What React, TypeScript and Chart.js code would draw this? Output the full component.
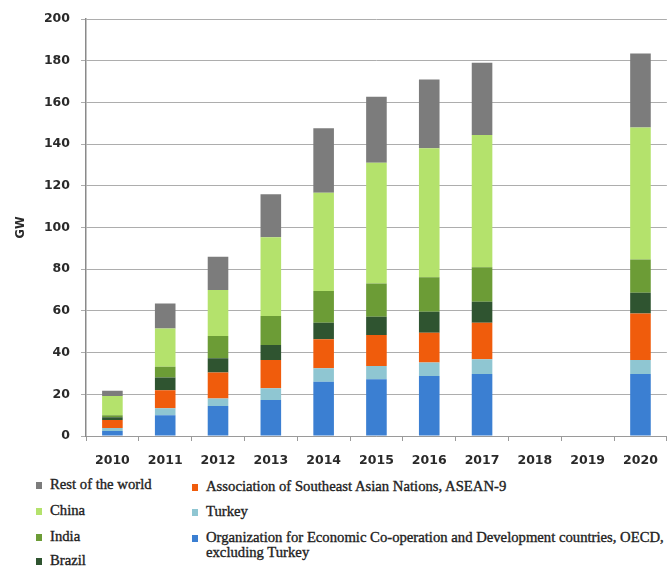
import React, { useEffect, useRef } from 'react';
import { Chart, registerables } from 'chart.js';

Chart.register(...registerables);

// ---- Data (GW) ----
const years = ['2010', '2011', '2012', '2013', '2014', '2015', '2016', '2017', '2018', '2019', '2020'];
const oecd = [2.4, 10, 14.4, 17.3, 26, 27.2, 28.8, 29.7, null, null, 29.7];
const turkey = [1.4, 3.3, 3.6, 5.6, 6.5, 6.4, 6.4, 7.1, null, null, 6.8];
const asean = [3.9, 8.7, 12.4, 13.6, 13.9, 14.8, 14.3, 17.5, null, null, 22.3];
const brazil = [1.3, 6, 6.9, 7.1, 7.9, 8.8, 10.1, 10.1, null, null, 9.9];
const india = [1, 5.2, 10.7, 14, 15.2, 16, 16.5, 16.5, null, null, 16];
const china = [9.2, 18.4, 22, 37.7, 47.2, 57.8, 61.9, 63.5, null, null, 63.3];
const rest = [2.5, 12, 16, 20.7, 30.9, 31.7, 33, 34.6, null, null, 35.5];
const yTicks = [0, 20, 40, 60, 80, 100, 120, 140, 160, 180, 200];

const labels = {
  oecd: 'Organization for Economic Co-operation and Development countries, OECD, excluding Turkey',
  turkey: 'Turkey',
  asean: 'Association of Southeast Asian Nations, ASEAN-9',
  brazil: 'Brazil',
  india: 'India',
  china: 'China',
  rest: 'Rest of the world',
};

const colors = {
  oecd: '#3b7fd2',
  turkey: '#8fc6d2',
  asean: '#f05c0c',
  brazil: '#2f5430',
  india: '#6c9c36',
  china: '#b4e26c',
  rest: '#7c7c7c',
};

// legend placement (styling only)
const legendLayout: { key: keyof typeof labels; x: number; y: number }[] = [
  { key: 'rest', x: 36, y: 485 },
  { key: 'china', x: 36, y: 511 },
  { key: 'india', x: 36, y: 537 },
  { key: 'brazil', x: 36, y: 561 },
  { key: 'asean', x: 192, y: 487 },
  { key: 'turkey', x: 192, y: 512 },
  { key: 'oecd', x: 192, y: 538 },
];

export default function App() {
  const ref = useRef<HTMLCanvasElement | null>(null);

  useEffect(() => {
    if (!ref.current) return;
    const series: [keyof typeof labels, (number | null)[]][] = [
      ['oecd', oecd],
      ['turkey', turkey],
      ['asean', asean],
      ['brazil', brazil],
      ['india', india],
      ['china', china],
      ['rest', rest],
    ];
    const chart = new Chart(ref.current, {
      type: 'bar',
      data: {
        labels: years,
        datasets: series.map(([k, d]) => ({
          label: labels[k],
          data: d,
          backgroundColor: colors[k],
          borderWidth: 0,
          categoryPercentage: 1,
          barPercentage: 0.39,
        })),
      },
      options: {
        animation: false,
        responsive: false,
        maintainAspectRatio: false,
        layout: { padding: { top: 19, right: 3, left: 0, bottom: 0 } },
        plugins: { legend: { display: false }, tooltip: { enabled: false } },
        scales: {
          x: {
            stacked: true,
            afterFit: (s: any) => { s.height = 39; },
            grid: { display: true, drawOnChartArea: false, drawTicks: true, offset: true, tickLength: 5, color: '#9a9a9a' },
            border: { display: true, color: '#9a9a9a', width: 1 },
            ticks: { color: '#2a2a2a', padding: 12, font: { family: 'DejaVu Sans', weight: 'bold', size: 12.5 } },
          },
          y: {
            stacked: true,
            min: 0,
            max: 200,
            afterFit: (s: any) => { s.width = 86; },
            afterBuildTicks: (s: any) => { s.ticks = yTicks.map((v) => ({ value: v })); },
            grid: { color: '#adadad', lineWidth: 1, tickLength: 5, drawTicks: true },
            border: { display: true, color: '#8a8a8a', width: 1.5 },
            ticks: { color: '#2a2a2a', padding: 11, font: { family: 'DejaVu Sans', weight: 'bold', size: 12.5 } },
            title: {
              display: true,
              text: 'GW',
              color: '#2a2a2a',
              padding: { top: 14, bottom: 0 },
              font: { family: 'DejaVu Sans', weight: 'bold', size: 11.5 },
            },
          },
        },
      },
    });
    return () => chart.destroy();
  }, []);

  return (
    <div style={{ position: 'fixed', left: 0, top: 0, width: 670, height: 571, background: '#fff', overflow: 'hidden' }}>
      <canvas ref={ref} width={670} height={475} style={{ position: 'absolute', left: 0, top: 0, width: 670, height: 475 }} />
      {legendLayout.map(({ key, x, y }) => {
        const text = labels[key].replace('OECD, ', 'OECD,\n');
        return (
          <div key={key} style={{ position: 'absolute', left: x, top: y - 8 }}>
            <div style={{ position: 'absolute', left: 0, top: 5, width: 6, height: 7, background: colors[key] }} />
            <div
              style={{
                position: 'absolute',
                left: 14,
                top: 0,
                whiteSpace: 'pre',
                fontFamily: '"Liberation Serif", serif',
                fontSize: 14.7,
                lineHeight: '15px',
                color: '#222',
                WebkitTextStroke: '0.35px #222',
              }}
            >
              {text}
            </div>
          </div>
        );
      })}
    </div>
  );
}
